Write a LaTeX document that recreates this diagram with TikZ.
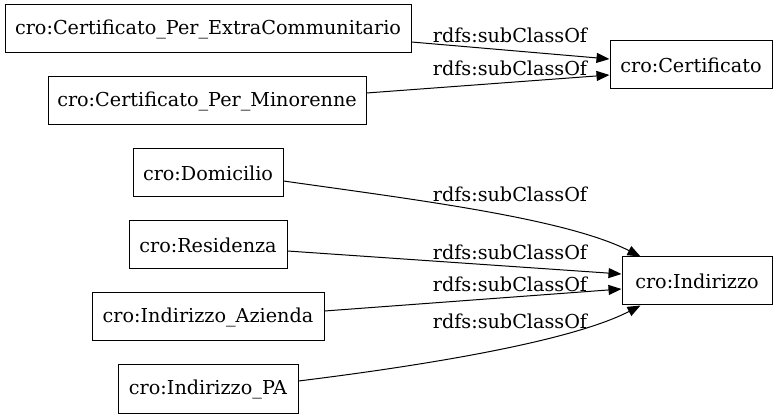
\documentclass[tikz,border=0pt]{standalone}
\usepackage{fontspec}
\setmainfont{DejaVu Serif}
\usetikzlibrary{arrows.meta}
\begin{document}
\begin{tikzpicture}[x=1pt,y=-1pt,
  box/.style={draw,line width=1pt,minimum height=48pt,inner xsep=0pt,font=\fontsize{19.2}{23}\selectfont},
  lbl/.style={font=\fontsize{19.2}{23}\selectfont,inner sep=0pt},
  edge/.style={line width=1pt,-{Triangle[length=13pt,width=10pt]}}]
\useasboundingbox (0,0) rectangle (779,419);
\node[box,minimum width=406pt] (extra) at (208,29) {cro:Certificato\_Per\_ExtraCommunitario};
\node[box,minimum width=318pt] (mino) at (207,101) {cro:Certificato\_Per\_Minorenne};
\node[box,minimum width=162pt] (cert) at (691,65) {cro:Certificato};
\node[box,minimum width=150pt] (dom) at (208,173) {cro:Domicilio};
\node[box,minimum width=158pt] (res) at (208,245) {cro:Residenza};
\node[box,minimum width=232pt] (az) at (208,317) {cro:Indirizzo\_Azienda};
\node[box,minimum width=180pt] (pa) at (208,389) {cro:Indirizzo\_PA};
\node[box,minimum width=150pt] (ind) at (697,281) {cro:Indirizzo};
\draw[edge] ([yshift=-13pt]extra.east) -- ([yshift=6pt]cert.west);
\draw[edge] ([yshift=8pt]mino.east) -- ([yshift=-10pt]cert.west);
\draw[edge] ([yshift=-8pt]dom.east) .. controls (410,199) and (565,218) .. ([xshift=19pt]ind.north west);
\draw[edge] ([yshift=-6pt]res.east) -- ([yshift=7pt]ind.west);
\draw[edge] ([yshift=6pt]az.east) -- ([yshift=-8pt]ind.west);
\draw[edge] ([yshift=8pt]pa.east) .. controls (420,366) and (570,342) .. ([xshift=19pt]ind.south west);
\node[lbl] (l1) at (510,35) {rdfs:subClassOf};
\node[lbl] (l2) at (510,68) {rdfs:subClassOf};
\node[lbl] (l3) at (510,194) {rdfs:subClassOf};
\node[lbl] (l4) at (510,252) {rdfs:subClassOf};
\node[lbl] (l5) at (510,284) {rdfs:subClassOf};
\node[lbl] (l6) at (510,321) {rdfs:subClassOf};
\end{tikzpicture}
\end{document}
